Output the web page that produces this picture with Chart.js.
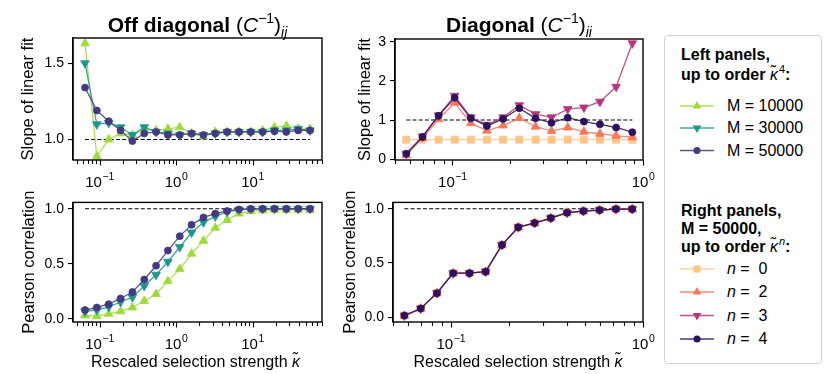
<!DOCTYPE html>
<html><head><meta charset="utf-8">
<script src="https://cdn.jsdelivr.net/npm/chart.js@4"></script>
<style>
body{margin:0;width:830px;height:374px;background:#fff;position:relative;overflow:hidden;font-family:"Liberation Sans",Arial,sans-serif;color:#000}
canvas{position:absolute}
.ttl{position:absolute;font-weight:bold;font-size:21px;line-height:24px;text-align:center;white-space:nowrap}
.ttl .m{font-weight:normal}
.ttl sup{font-size:14px;vertical-align:baseline;position:relative;top:-9px}
.ttl sub{font-size:14px;vertical-align:baseline;position:relative;top:5px;font-style:italic}
.xt{position:absolute;font-size:16px;line-height:18px;text-align:center;white-space:nowrap}
#legend{position:absolute;left:664px;top:35px;width:158px;height:329px;box-sizing:border-box;border:1px solid #d4d4d4;border-radius:4px;background:#fff}
#legend .t{position:absolute;font-size:16px;line-height:20px;white-space:nowrap}
#legend .b{font-weight:bold}
#legend sup{font-size:11px;vertical-align:baseline;position:relative;top:-7px;font-weight:normal;margin-left:1px}
#legend svg{position:absolute;left:0;top:0}
</style>
</head><body>
<canvas id="c1" width="330" height="190" style="left:0;top:0"></canvas>
<canvas id="c2" width="330" height="190" style="left:330px;top:0"></canvas>
<canvas id="c3" width="330" height="184" style="left:0;top:190px"></canvas>
<canvas id="c4" width="330" height="184" style="left:330px;top:190px"></canvas>

<div class="ttl" style="left:73px;width:249px;top:12.5px">Off diagonal <span class="m">(<i>C</i><sup>−1</sup>)<sub>ij</sub></span></div>
<div class="ttl" style="left:395px;width:248px;top:12.5px">Diagonal <span class="m">(<i>C</i><sup>−1</sup>)<sub>ii</sub></span></div>
<div class="xt" style="left:71px;width:249px;top:352.5px">Rescaled selection strength <i>κ̃</i></div>
<div class="xt" style="left:394px;width:248px;top:352.5px">Rescaled selection strength <i>κ̃</i></div>

<div id="legend"></div>

<script>
// ---------- data ----------
const kappaLeft = [0.0646, 0.0923, 0.1319, 0.1883, 0.2690, 0.3841, 0.5487, 0.7837, 1.119, 1.598,
                   2.283, 3.261, 4.658, 6.652, 9.50, 13.57, 19.38, 27.68, 39.53, 56.46];
const slopeM10000 = [1.63, 0.89, 1.00, 1.04, 1.03, 1.07, 1.06, 1.07, 1.08, 1.04,
                     1.02, 1.05, 1.05, 1.05, 1.05, 1.06, 1.08, 1.09, 1.07, 1.07];
const slopeM30000 = [1.50, 1.10, 1.11, 1.08, 1.03, 1.08, 1.05, 1.04, 1.03, 1.04,
                     1.03, 1.04, 1.05, 1.05, 1.05, 1.05, 1.06, 1.06, 1.07, 1.06];
const slopeM50000 = [1.34, 1.19, 1.12, 1.06, 0.99, 1.04, 1.05, 1.03, 1.03, 1.04,
                     1.03, 1.04, 1.05, 1.05, 1.05, 1.05, 1.055, 1.05, 1.06, 1.06];
const pearM10000 = [0.029, 0.023, 0.044, 0.067, 0.102, 0.161, 0.225, 0.342, 0.453, 0.591,
                    0.708, 0.827, 0.898, 0.956, 0.980, 0.985, 0.988, 0.990, 0.990, 0.990];
const pearM30000 = [0.067, 0.079, 0.108, 0.152, 0.196, 0.298, 0.400, 0.518, 0.652, 0.784,
                    0.877, 0.930, 0.971, 0.991, 0.997, 1.0, 1.0, 1.0, 1.0, 1.0];
const pearM50000 = [0.079, 0.102, 0.132, 0.184, 0.243, 0.357, 0.482, 0.620, 0.751, 0.854,
                    0.921, 0.956, 0.980, 0.994, 1.0, 1.0, 1.0, 1.0, 1.0, 1.0];

const kappaRight = [0.0573, 0.0697, 0.0846, 0.1028, 0.1250, 0.1517, 0.1845, 0.2244,
                    0.2729, 0.3311, 0.4027, 0.4898, 0.5943, 0.7228, 0.8790];
const slopeN0 = [0.50, 0.50, 0.50, 0.50, 0.50, 0.50, 0.50, 0.50, 0.50, 0.50, 0.50, 0.50, 0.50, 0.50, 0.50];
const slopeN2 = [0.10, 0.54, 1.02, 1.44, 0.92, 0.73, 0.86, 1.05, 0.83, 0.72, 0.81, 0.70, 0.65, 0.60, 0.56];
const slopeN3 = [0.14, 0.58, 1.12, 1.62, 1.07, 0.88, 1.07, 1.38, 1.15, 1.07, 1.28, 1.32, 1.47, 1.85, 2.96];
const slopeN4 = [0.14, 0.57, 1.11, 1.57, 1.045, 0.85, 1.03, 1.30, 1.045, 0.93, 1.06, 0.96, 0.89, 0.81, 0.69];
const pearN0 = [0.015, 0.08, 0.222, 0.406, 0.406, 0.42, 0.667, 0.83, 0.869, 0.914, 0.964, 0.979, 0.988, 0.997, 0.997];
const pearN2 = [0.015, 0.08, 0.222, 0.406, 0.406, 0.42, 0.667, 0.83, 0.869, 0.914, 0.964, 0.979, 0.988, 0.997, 0.997];
const pearN3 = [0.015, 0.08, 0.222, 0.406, 0.406, 0.42, 0.667, 0.83, 0.869, 0.914, 0.964, 0.979, 0.988, 0.997, 0.997];
const pearN4 = [0.015, 0.08, 0.222, 0.406, 0.406, 0.42, 0.667, 0.83, 0.869, 0.914, 0.964, 0.979, 0.988, 0.997, 0.997];

const refValue = 1.0;
const yTicksSlopeLeft = [1.0, 1.5];
const yTicksSlopeRight = [0, 1, 2, 3];
const yTicksPearson = [0.0, 0.5, 1.0];
const xMajorLeft = [0.1, 1, 10];
const xMajorRight = [0.1, 1];

const leftSeries = ['M = 10000', 'M = 30000', 'M = 50000'];
const rightSeries = ['0', '2', '3', '4'];

// ---------- styles ----------
const colM = ['#9fda3a', '#1f968b', '#443a83'];
const colN = ['#fec488', '#f8765c', '#b5367a', '#2c115f'];
const styleM = [{s:'triangle', rot:0, r:5}, {s:'triangle', rot:180, r:5}, {s:'circle', rot:0, r:3.5}];
const styleN = [{s:'rect', rot:0, r:5}, {s:'triangle', rot:0, r:5}, {s:'triangle', rot:180, r:5}, {s:'circle', rot:0, r:3.5}];

Chart.defaults.font.family = "'Liberation Sans', Arial, sans-serif";
Chart.defaults.color = '#000';
Chart.defaults.animation = false;

function alpha(hex, a){
  const n = parseInt(hex.slice(1), 16);
  return `rgba(${n>>16},${(n>>8)&255},${n&255},${a})`;
}
function series(xs, ys, col, st, order){
  return {
    data: xs.map((x, i) => ({x, y: ys[i]})),
    borderColor: alpha(col, 0.85), backgroundColor: col,
    pointBorderColor: col, pointBackgroundColor: col,
    borderWidth: 1.3, pointRadius: st.r, pointBorderWidth: 0.8,
    pointStyle: st.s, pointRotation: st.rot, order, clip: false
  };
}
function refLine(xs){
  return {
    data: [{x: xs[0], y: refValue}, {x: xs[xs.length-1], y: refValue}],
    borderColor: '#000', borderWidth: 1.1, borderDash: [4, 2.2],
    pointRadius: 0, order: 10
  };
}

const frameAxis = {
  id: 'frameAxis',
  afterDraw(chart, args, opts){
    const {ctx, chartArea: a} = chart;
    const xs = chart.scales.x;
    ctx.save();
    ctx.strokeStyle = '#000';
    ctx.lineWidth = 1.1;
    const lo = Math.log10(xs.min), hi = Math.log10(xs.max);
    for (let d = Math.floor(lo); d <= Math.ceil(hi); d++){
      for (let k = 1; k < 10; k++){
        const v = k * Math.pow(10, d);
        if (v < xs.min || v > xs.max) continue;
        const px = Math.round(xs.getPixelForValue(v)) + 0.5;
        const len = k === 1 ? 5.5 : 4;
        ctx.beginPath(); ctx.moveTo(px, a.bottom); ctx.lineTo(px, a.bottom + len); ctx.stroke();
      }
    }
    ctx.fillStyle = '#000';
    ctx.textBaseline = 'alphabetic';
    ctx.textAlign = 'left';
    opts.majors.forEach(v => {
      const e = Math.round(Math.log10(v));
      const sup = e < 0 ? '\u2212' + (-e) : String(e);
      const px = xs.getPixelForValue(v);
      ctx.font = "15px 'Liberation Sans', Arial, sans-serif";
      const w1 = ctx.measureText('10').width;
      ctx.font = "10.5px 'Liberation Sans', Arial, sans-serif";
      const w2 = ctx.measureText(sup).width;
      const x0 = px - (w1 + w2) / 2;
      ctx.font = "15px 'Liberation Sans', Arial, sans-serif";
      ctx.fillText('10', x0, a.bottom + 26.5);
      ctx.font = "10.5px 'Liberation Sans', Arial, sans-serif";
      ctx.fillText(sup, x0 + w1 + 0.5, a.bottom + 19.5);
    });
    ctx.lineWidth = 1.4;
    ctx.strokeRect(a.left, a.top, a.right - a.left, a.bottom - a.top);
    ctx.restore();
  }
};

function makeChart(id, datasets, cfg){
  return new Chart(document.getElementById(id), {
    type: 'line',
    data: {datasets},
    plugins: [frameAxis],
    options: {
      responsive: false,
      layout: {padding: {top: cfg.padTop, right: cfg.padRight, left: 0, bottom: 0}},
      plugins: {legend: {display: false}, tooltip: {enabled: false}, frameAxis: {majors: cfg.majors}},
      scales: {
        x: {
          type: 'logarithmic', min: cfg.xmin, max: cfg.xmax,
          ticks: {display: false}, grid: {display: false}, border: {display: false},
          afterFit: s => { s.height = cfg.xh; }
        },
        y: {
          type: 'linear', min: cfg.ymin, max: cfg.ymax,
          afterBuildTicks: s => { s.ticks = cfg.yticks.map(v => ({value: v})); },
          ticks: {font: {size: 14}, color: '#000', padding: 4,
                  callback: v => cfg.ydec ? Number(v).toFixed(1) : String(v)},
          grid: {display: true, drawOnChartArea: false, drawTicks: true, tickLength: 5, color: '#000', lineWidth: 1.1},
          border: {display: true, color: '#000', width: 1.4},
          title: {display: true, text: cfg.ytitle, font: {size: 16.5}, color: '#000', padding: {top: cfg.ytp, bottom: 0}},
          afterFit: s => { s.width = cfg.yw; }
        }
      }
    }
  });
}

makeChart('c1', [
  refLine(kappaLeft),
  series(kappaLeft, slopeM10000, colM[0], styleM[0], 3),
  series(kappaLeft, slopeM30000, colM[1], styleM[1], 2),
  series(kappaLeft, slopeM50000, colM[2], styleM[2], 1)
], {padTop: 38, padRight: 8, xh: 30, yw: 73, xmin: 0.045, xmax: 81, ymin: 0.866, ymax: 1.665,
    yticks: yTicksSlopeLeft, ydec: true, ytitle: 'Slope of linear fit', ytp: 18.4, majors: xMajorLeft});

makeChart('c2', [
  refLine(kappaRight),
  series(kappaRight, slopeN0, colN[0], styleN[0], 4),
  series(kappaRight, slopeN2, colN[1], styleN[1], 3),
  series(kappaRight, slopeN3, colN[2], styleN[2], 2),
  series(kappaRight, slopeN4, colN[3], styleN[3], 1)
], {padTop: 39, padRight: 17, xh: 30, yw: 65, xmin: 0.05, xmax: 1.0, ymin: -0.02, ymax: 3.07,
    yticks: yTicksSlopeRight, ydec: false, ytitle: 'Slope of linear fit', ytp: 25.6, majors: xMajorRight});

makeChart('c3', [
  refLine(kappaLeft),
  series(kappaLeft, pearM10000, colM[0], styleM[0], 3),
  series(kappaLeft, pearM30000, colM[1], styleM[1], 2),
  series(kappaLeft, pearM50000, colM[2], styleM[2], 1)
], {padTop: 8, padRight: 8, xh: 52, yw: 73, xmin: 0.045, xmax: 81, ymin: -0.03, ymax: 1.058,
    yticks: yTicksPearson, ydec: true, ytitle: 'Pearson correlation', ytp: 19.4, majors: xMajorLeft});

makeChart('c4', [
  refLine(kappaRight),
  series(kappaRight, pearN0, colN[0], styleN[0], 4),
  series(kappaRight, pearN2, colN[1], styleN[1], 3),
  series(kappaRight, pearN3, colN[2], styleN[2], 2),
  series(kappaRight, pearN4, colN[3], styleN[3], 1)
], {padTop: 8, padRight: 17, xh: 52, yw: 63, xmin: 0.05, xmax: 1.0, ymin: -0.044, ymax: 1.059,
    yticks: yTicksPearson, ydec: true, ytitle: 'Pearson correlation', ytp: 10.4, majors: xMajorRight});

// ---------- legend ----------
(function(){
  const L = document.getElementById('legend');
  const ox = 665, oy = 36;
  let html = '';
  const txt = (x, base, inner, cls) => {
    html += `<div class="t ${cls||''}" style="left:${x-ox}px;top:${base-15.5-oy}px">${inner}</div>`;
  };
  txt(681, 60, 'Left panels,', 'b');
  txt(681, 80, 'up to order <i style="font-weight:normal">κ̃</i><sup>4</sup>:', 'b');
  txt(681, 216.5, 'Right panels,', 'b');
  txt(681, 234.5, 'M = 50000,', 'b');
  txt(681, 252.5, 'up to order <i style="font-weight:normal">κ̃</i><sup><i>n</i></sup>:', 'b');
  const mCy = [106, 128, 150.5];
  const nCy = [269, 292, 315.5, 339];
  let svg = `<svg width="156" height="327" xmlns="http://www.w3.org/2000/svg">`;
  const marker = (cx, cy, st, col) => {
    if (st.s === 'circle') return `<circle cx="${cx}" cy="${cy}" r="${st.r}" fill="${col}"/>`;
    if (st.s === 'rect') { const h = st.r * Math.SQRT1_2; return `<rect x="${cx-h}" y="${cy-h}" width="${2*h}" height="${2*h}" fill="${col}"/>`; }
    const r = st.r, sgn = st.rot ? -1 : 1;
    const p = [[cx, cy - sgn*r], [cx + r*0.866, cy + sgn*r*0.5], [cx - r*0.866, cy + sgn*r*0.5]];
    return `<polygon points="${p.map(q => q.join(',')).join(' ')}" fill="${col}"/>`;
  };
  const entry = (cy, col, st) => {
    const y = cy - oy, x1 = 680 - ox, x2 = 714 - ox;
    svg += `<line x1="${x1}" y1="${y}" x2="${x2}" y2="${y}" stroke="${alpha(col,0.85)}" stroke-width="1.6"/>`;
    svg += marker((x1 + x2) / 2, y, st, col);
  };
  leftSeries.forEach((name, i) => { entry(mCy[i], colM[i], styleM[i]); txt(727, mCy[i] + 5.7, name); });
  rightSeries.forEach((n, i) => { entry(nCy[i], colN[i], styleN[i]); txt(727, nCy[i] + 5.7, `<i>n</i> =&nbsp; ${n}`); });
  svg += '</svg>';
  L.innerHTML = svg + html;
})();
</script>
</body></html>
